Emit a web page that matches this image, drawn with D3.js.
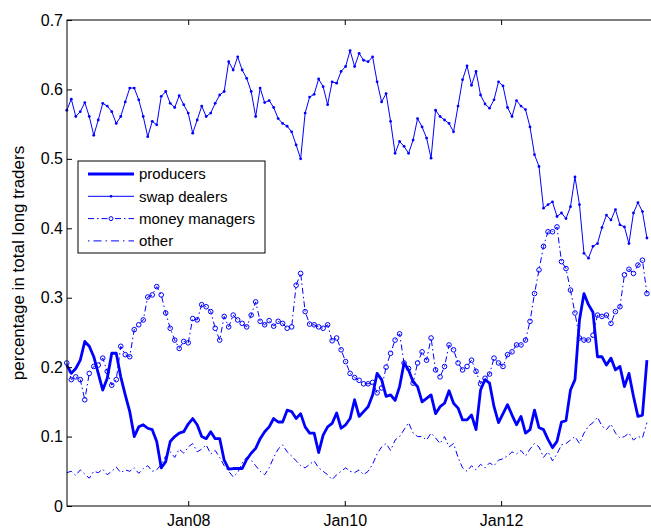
<!DOCTYPE html>
<html>
<head>
<meta charset="utf-8">
<script src="https://cdn.jsdelivr.net/npm/d3@7"></script>
<style>
  html, body { margin: 0; padding: 0; background: #fff; }
  svg { display: block; font-family: 'Liberation Sans', Arial, Helvetica, sans-serif; }
</style>
</head>
<body>
<div id="chart"></div>
<script>
// weekly COT reports, sampled every third week
const firstReport = new Date(2006, 5, 13);
const stepDays = 21;

const seriesNames = ['producers', 'swap dealers', 'money managers', 'other'];

const producers = [
  0.203, 0.191, 0.198, 0.210, 0.237, 0.230, 0.215, 0.191, 0.167, 0.184,
  0.220, 0.220, 0.186, 0.160, 0.136, 0.100, 0.114, 0.117, 0.112, 0.110,
  0.093, 0.055, 0.064, 0.093, 0.100, 0.105, 0.107, 0.118, 0.126, 0.117,
  0.100, 0.097, 0.107, 0.097, 0.097, 0.066, 0.053, 0.054, 0.054, 0.054,
  0.067, 0.076, 0.083, 0.097, 0.107, 0.114, 0.126, 0.121, 0.121, 0.138,
  0.136, 0.126, 0.133, 0.114, 0.105, 0.105, 0.077, 0.102, 0.114, 0.119,
  0.134, 0.112, 0.117, 0.126, 0.153, 0.129, 0.136, 0.143, 0.160, 0.191,
  0.182, 0.158, 0.160, 0.152, 0.172, 0.206, 0.196, 0.179, 0.172, 0.150,
  0.155, 0.160, 0.133, 0.143, 0.148, 0.166, 0.148, 0.141, 0.124, 0.124,
  0.131, 0.110, 0.167, 0.182, 0.177, 0.143, 0.120, 0.133, 0.146, 0.131,
  0.117, 0.129, 0.105, 0.110, 0.138, 0.113, 0.110, 0.096, 0.084, 0.093,
  0.121, 0.123, 0.167, 0.182, 0.268, 0.306, 0.290, 0.279, 0.215, 0.215,
  0.203, 0.213, 0.196, 0.201, 0.172, 0.191, 0.158, 0.129, 0.131, 0.210
];

const swapDealers = [
  0.570, 0.586, 0.561, 0.568, 0.581, 0.561, 0.534, 0.556, 0.580, 0.576,
  0.568, 0.551, 0.561, 0.582, 0.602, 0.602, 0.585, 0.561, 0.532, 0.554,
  0.549, 0.590, 0.597, 0.580, 0.574, 0.591, 0.578, 0.566, 0.537, 0.556,
  0.576, 0.561, 0.566, 0.580, 0.592, 0.597, 0.640, 0.628, 0.647, 0.628,
  0.616, 0.597, 0.561, 0.602, 0.581, 0.584, 0.574, 0.558, 0.551, 0.547,
  0.539, 0.520, 0.500, 0.566, 0.589, 0.593, 0.615, 0.604, 0.578, 0.611,
  0.609, 0.626, 0.633, 0.656, 0.633, 0.652, 0.642, 0.640, 0.647, 0.611,
  0.582, 0.594, 0.554, 0.508, 0.525, 0.518, 0.508, 0.527, 0.558, 0.546,
  0.530, 0.501, 0.570, 0.561, 0.556, 0.551, 0.539, 0.576, 0.614, 0.634,
  0.606, 0.626, 0.592, 0.579, 0.573, 0.585, 0.611, 0.605, 0.574, 0.561,
  0.584, 0.576, 0.571, 0.546, 0.506, 0.489, 0.429, 0.434, 0.438, 0.417,
  0.422, 0.414, 0.431, 0.474, 0.434, 0.364, 0.357, 0.374, 0.378, 0.401,
  0.419, 0.412, 0.427, 0.405, 0.402, 0.378, 0.422, 0.437, 0.424, 0.386
];

const moneyManagers = [
  0.206, 0.182, 0.186, 0.182, 0.153, 0.191, 0.201, 0.203, 0.213, 0.194,
  0.174, 0.182, 0.230, 0.218, 0.215, 0.254, 0.261, 0.268, 0.301, 0.304,
  0.316, 0.304, 0.278, 0.256, 0.239, 0.227, 0.237, 0.235, 0.270, 0.268,
  0.290, 0.287, 0.280, 0.256, 0.239, 0.273, 0.258, 0.275, 0.268, 0.263,
  0.258, 0.275, 0.294, 0.266, 0.261, 0.267, 0.259, 0.266, 0.263, 0.256,
  0.258, 0.318, 0.335, 0.280, 0.262, 0.261, 0.258, 0.256, 0.261, 0.238,
  0.242, 0.225, 0.208, 0.191, 0.185, 0.181, 0.176, 0.176, 0.178, 0.163,
  0.170, 0.200, 0.220, 0.239, 0.248, 0.206, 0.198, 0.177, 0.206, 0.222,
  0.210, 0.242, 0.196, 0.186, 0.201, 0.232, 0.225, 0.206, 0.196, 0.201,
  0.210, 0.194, 0.176, 0.184, 0.190, 0.213, 0.206, 0.201, 0.218, 0.222,
  0.232, 0.232, 0.239, 0.266, 0.306, 0.340, 0.374, 0.395, 0.395, 0.402,
  0.352, 0.342, 0.311, 0.278, 0.242, 0.239, 0.239, 0.246, 0.275, 0.273,
  0.275, 0.263, 0.280, 0.287, 0.333, 0.341, 0.335, 0.347, 0.354, 0.306
];

const other = [
  0.048, 0.050, 0.044, 0.052, 0.046, 0.040, 0.050, 0.048, 0.053, 0.045,
  0.050, 0.056, 0.048, 0.052, 0.050, 0.055, 0.047, 0.054, 0.058, 0.050,
  0.052, 0.060, 0.072, 0.078, 0.070, 0.082, 0.076, 0.085, 0.090, 0.078,
  0.082, 0.088, 0.075, 0.080, 0.070, 0.058, 0.050, 0.042, 0.048, 0.062,
  0.070, 0.066, 0.058, 0.050, 0.045, 0.055, 0.070, 0.082, 0.088, 0.078,
  0.072, 0.065, 0.058, 0.055, 0.060, 0.065, 0.055, 0.050, 0.045, 0.038,
  0.045, 0.050, 0.055, 0.050, 0.048, 0.052, 0.045, 0.050, 0.060, 0.075,
  0.085, 0.090, 0.080, 0.095, 0.100, 0.110, 0.120, 0.105, 0.100, 0.100,
  0.095, 0.105, 0.098, 0.090, 0.100, 0.085, 0.090, 0.070, 0.055, 0.050,
  0.058, 0.052, 0.060, 0.055, 0.062, 0.058, 0.066, 0.068, 0.072, 0.078,
  0.075, 0.080, 0.072, 0.082, 0.090, 0.085, 0.070, 0.078, 0.065, 0.075,
  0.088, 0.090, 0.095, 0.100, 0.090, 0.105, 0.115, 0.120, 0.128, 0.115,
  0.110, 0.118, 0.105, 0.098, 0.100, 0.105, 0.095, 0.100, 0.098, 0.120
];

const yTicks = [0, 0.1, 0.2, 0.3, 0.4, 0.5, 0.6, 0.7];
const xTicks = [new Date(2008, 0, 1), new Date(2010, 0, 1), new Date(2012, 0, 1)];

const W = 651;
const H = 530;
const plotLeft = 67;
const plotRight = 660; // the axes box runs past the picture edge
const plotTop = 20;
const plotBottom = 506;
const blue = '#0000ff';

const dates = producers.map((_, i) => d3.timeDay.offset(firstReport, i * stepDays));

const svg = d3.select('#chart')
  .append('svg')
  .attr('width', W)
  .attr('height', H);

const x = d3.scaleTime()
  .domain([new Date(2006, 5, 14), new Date(2014, 0, 12)])
  .range([plotLeft, plotRight]);
const y = d3.scaleLinear()
  .domain([0, 0.7])
  .range([plotBottom, plotTop]);

const line = (vals) => d3.line()
  .x((d, i) => x(dates[i]))
  .y((d) => y(d))(vals);

// plot lines, back to front
svg.append('path')
  .attr('d', line(other))
  .attr('fill', 'none')
  .attr('stroke', blue)
  .attr('stroke-width', 1)
  .attr('stroke-dasharray', '6,3,1.5,3');

svg.append('path')
  .attr('d', line(moneyManagers))
  .attr('fill', 'none')
  .attr('stroke', blue)
  .attr('stroke-width', 1)
  .attr('stroke-dasharray', '6,3,1.5,3');
svg.append('g')
  .selectAll('circle')
  .data(moneyManagers)
  .join('circle')
  .attr('cx', (d, i) => x(dates[i]))
  .attr('cy', (d) => y(d))
  .attr('r', 2.3)
  .attr('fill', 'none')
  .attr('stroke', blue)
  .attr('stroke-width', 1);

svg.append('path')
  .attr('d', line(swapDealers))
  .attr('fill', 'none')
  .attr('stroke', blue)
  .attr('stroke-width', 1);
svg.append('g')
  .selectAll('circle')
  .data(swapDealers)
  .join('circle')
  .attr('cx', (d, i) => x(dates[i]))
  .attr('cy', (d) => y(d))
  .attr('r', 1.4)
  .attr('fill', blue);

svg.append('path')
  .attr('d', line(producers))
  .attr('fill', 'none')
  .attr('stroke', blue)
  .attr('stroke-width', 2.8)
  .attr('stroke-linejoin', 'round');

// axes box, ticks point inward as in matlab
svg.append('rect')
  .attr('x', plotLeft)
  .attr('y', plotTop)
  .attr('width', plotRight - plotLeft)
  .attr('height', plotBottom - plotTop)
  .attr('fill', 'none')
  .attr('stroke', '#000')
  .attr('stroke-width', 1);

svg.append('g')
  .attr('transform', `translate(0,${plotBottom})`)
  .call(d3.axisBottom(x)
    .tickValues(xTicks)
    .tickFormat(d3.timeFormat('Jan%y'))
    .tickSizeInner(-5)
    .tickSizeOuter(0)
    .tickPadding(9));
svg.append('g')
  .attr('transform', `translate(0,${plotTop})`)
  .call(d3.axisTop(x)
    .tickValues(xTicks)
    .tickFormat('')
    .tickSizeInner(-5)
    .tickSizeOuter(0));

svg.append('g')
  .attr('transform', `translate(${plotLeft},0)`)
  .call(d3.axisLeft(y)
    .tickValues(yTicks)
    .tickFormat((d) => (d === 0 ? '0' : d3.format('.1f')(d)))
    .tickSizeInner(-5)
    .tickSizeOuter(0)
    .tickPadding(4));

svg.selectAll('.domain').remove();
svg.selectAll('.tick line').attr('stroke', '#000');
svg.selectAll('.tick text')
  .attr('fill', '#000')
  .style('font-size', '16px')
  .style('font-family', "'Liberation Sans', Arial, sans-serif");

svg.append('text')
  .attr('transform', `translate(24,${(plotTop + plotBottom) / 2}) rotate(-90)`)
  .attr('text-anchor', 'middle')
  .style('font-size', '17px')
  .text('percentage in total long traders');

// legend
const lg = svg.append('g').attr('transform', 'translate(78,161)');
lg.append('rect')
  .attr('width', 187)
  .attr('height', 92)
  .attr('fill', '#fff')
  .attr('stroke', '#000')
  .attr('stroke-width', 1);

const rowY = (i) => 13 + i * 22.3;
const styles = [
  { w: 2.8, dash: null, marker: null },
  { w: 1, dash: null, marker: 'dot' },
  { w: 1, dash: '6,3,1.5,3', marker: 'circle' },
  { w: 1, dash: '1.5,4,8,4', marker: null },
];
seriesNames.forEach((name, i) => {
  const s = styles[i];
  lg.append('line')
    .attr('x1', 10)
    .attr('x2', 56)
    .attr('y1', rowY(i))
    .attr('y2', rowY(i))
    .attr('stroke', blue)
    .attr('stroke-width', s.w)
    .attr('stroke-dasharray', s.dash);
  if (s.marker === 'dot') {
    lg.append('circle').attr('cx', 33).attr('cy', rowY(i)).attr('r', 1.4).attr('fill', blue);
  } else if (s.marker === 'circle') {
    lg.append('circle').attr('cx', 33).attr('cy', rowY(i)).attr('r', 2)
      .attr('fill', '#fff').attr('stroke', blue);
  }
  lg.append('text')
    .attr('x', 61)
    .attr('y', rowY(i))
    .attr('dy', '0.36em')
    .style('font-size', '15px')
    .text(name);
});
</script>
</body>
</html>
